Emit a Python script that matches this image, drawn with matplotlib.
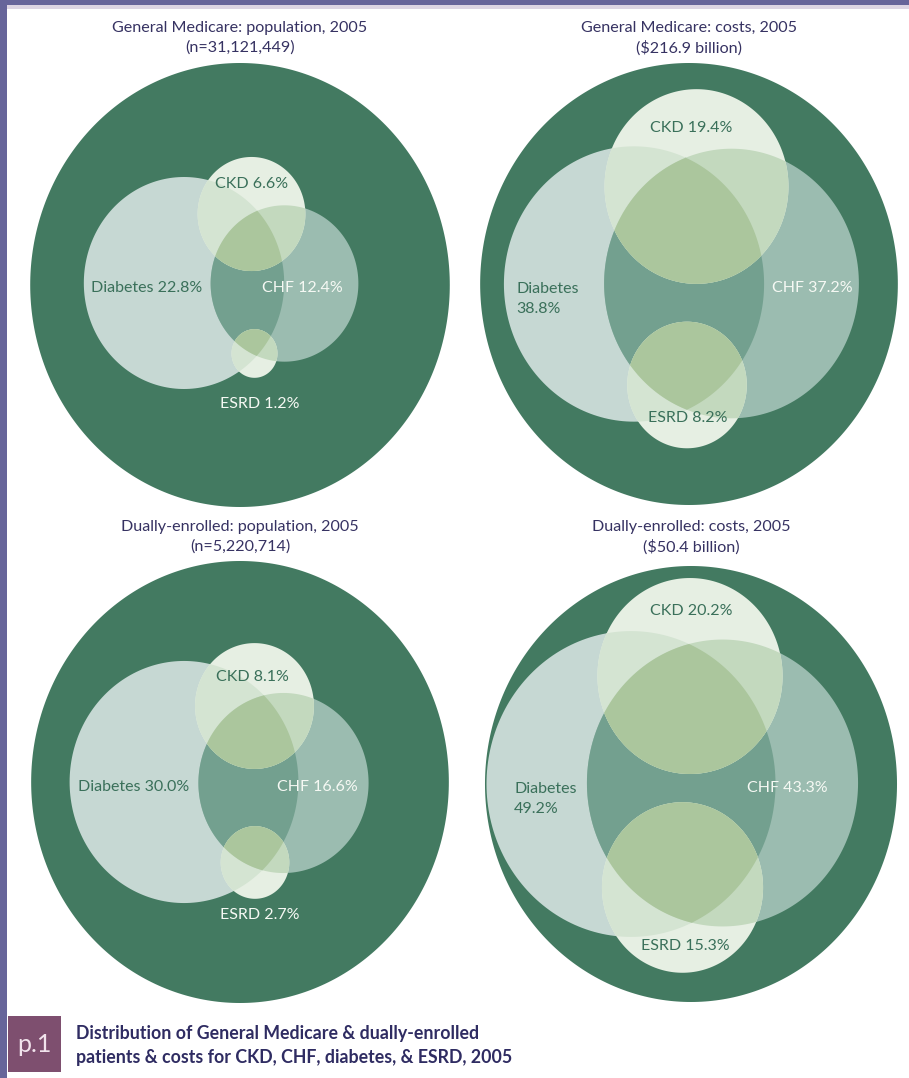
import matplotlib

matplotlib.use("Agg")
import matplotlib.pyplot as plt
from matplotlib.patches import Polygon, Rectangle
import numpy as np

# ---- data -------------------------------------------------------------
panel_titles = [
    "General Medicare: population, 2005",
    "General Medicare: costs, 2005",
    "Dually-enrolled: population, 2005",
    "Dually-enrolled: costs, 2005",
]
panel_subtitles = ["(n=31,121,449)", "($216.9 billion)", "(n=5,220,714)", "($50.4 billion)"]
diabetes_pct = [22.8, 38.8, 30.0, 49.2]
chf_pct = [12.4, 37.2, 16.6, 43.3]
ckd_pct = [6.6, 19.4, 8.1, 20.2]
esrd_pct = [1.2, 8.2, 2.7, 15.3]
caption = ["Distribution of General Medicare & dually-enrolled",
           "patients & costs for CKD, CHF, diabetes, & ESRD, 2005"]

# ---- layout (pixel coordinates) ---------------------------------------
W, H = 909, 1078
XSQ = 0.945  # artwork is slightly squeezed horizontally
panel_xy = [(240, 285), (689, 284), (240, 782), (691, 784)]
panel_r = [222, 221, 221, 218]
diab_xy = [(184, 283), (634, 284), (184, 782), (631, 784)]
chf_xy = [(284.5, 283.5), (731.5, 283.5), (283.5, 783), (722.5, 783)]
ckd_xy = [(251.5, 214), (696.5, 186.5), (254.5, 706), (690, 676)]
esrd_xy = [(254.5, 353.5), (687, 385), (255, 862.5), (682.5, 887.5)]
title_y = [28, 28, 527, 527]

# label anchors: (x, y, ha)
diab_lab = [(147, 288, "center"), (516, 299, "left"), (134, 787, "center"), (514, 799, "left")]
chf_lab = [(302, 288), (812, 288), (317, 787), (787, 788)]
ckd_lab = [(252, 184), (691, 128), (252, 677), (691, 611)]
esrd_lab = [(260, 404), (688, 418), (260, 915), (685, 946)]
esrd_on_dark = [True, False, True, False]

BG = "#437A61"
C_DIAB = "#C6D8D3"
C_CHF = "#9BBCB0"
C_DIAB_CHF = "#73A08F"
C_SMALL = "#E6EFE3"
C_SMALL_DIAB = "#D4E4D2"
C_SMALL_CHF = "#C3D9BE"
C_SMALL_ALL = "#ABC69D"
DARK_TXT = "#3A705A"
LIGHT_TXT = "#F6F9F4"
TITLE_C = "#363262"

LABEL_FS = 11.5
TITLE_FS = 11.6

plt.rcParams["font.family"] = ["Lato", "DejaVu Sans"]


def ellipse_pts(c, r, n=220):
    t = np.linspace(0, 2 * np.pi, n, endpoint=False)
    return np.column_stack([c[0] + XSQ * r * np.cos(t), c[1] + r * np.sin(t)])


def clip(subject, clipper):
    # Sutherland-Hodgman, both polygons convex and counter-clockwise
    out = [tuple(p) for p in subject]
    m = len(clipper)
    for i in range(m):
        if not out:
            break
        ax_, ay_ = clipper[i]
        bx_, by_ = clipper[(i + 1) % m]
        dx, dy = bx_ - ax_, by_ - ay_

        def side(p):
            return dx * (p[1] - ay_) - dy * (p[0] - ax_)

        inp, out = out, []
        s = inp[-1]
        ss = side(s)
        for e in inp:
            se = side(e)
            if se >= 0:
                if ss < 0:
                    t = ss / (ss - se)
                    out.append((s[0] + t * (e[0] - s[0]), s[1] + t * (e[1] - s[1])))
                out.append(e)
            elif ss >= 0:
                t = ss / (ss - se)
                out.append((s[0] + t * (e[0] - s[0]), s[1] + t * (e[1] - s[1])))
            s, ss = e, se
    return np.array(out)


def fill(ax, pts, color):
    if len(pts) >= 3:
        ax.add_patch(Polygon(pts, closed=True, facecolor=color, edgecolor="none", lw=0))


fig = plt.figure(figsize=(W / 100, H / 100), dpi=100)
ax = fig.add_axes([0, 0, 1, 1])
ax.set_xlim(0, W)
ax.set_ylim(H, 0)
ax.axis("off")

for i in range(4):
    R = panel_r[i]
    big = ellipse_pts(panel_xy[i], R, 360)
    diab = ellipse_pts(diab_xy[i], R * np.sqrt(diabetes_pct[i] / 100))
    chf = ellipse_pts(chf_xy[i], R * np.sqrt(chf_pct[i] / 100))
    smalls = [ellipse_pts(ckd_xy[i], R * np.sqrt(ckd_pct[i] / 100)),
              ellipse_pts(esrd_xy[i], R * np.sqrt(esrd_pct[i] / 100))]

    fill(ax, big, BG)
    fill(ax, diab, C_DIAB)
    fill(ax, chf, C_CHF)
    for s in smalls:
        fill(ax, s, C_SMALL)
    dc = clip(diab, chf)
    fill(ax, dc, C_DIAB_CHF)
    for s in smalls:
        fill(ax, clip(s, diab), C_SMALL_DIAB)
        fill(ax, clip(s, chf), C_SMALL_CHF)
    for s in smalls:
        if len(dc) >= 3:
            fill(ax, clip(s, dc), C_SMALL_ALL)

    # titles
    ax.text(panel_xy[i][0], title_y[i], panel_titles[i], ha="center", va="center",
            fontsize=TITLE_FS, color=TITLE_C)
    ax.text(panel_xy[i][0], title_y[i] + 20, panel_subtitles[i], ha="center", va="center",
            fontsize=TITLE_FS, color=TITLE_C)

    # labels
    x, y, ha = diab_lab[i]
    sep = " " if ha == "center" else "\n"
    ax.text(x, y, f"Diabetes{sep}{diabetes_pct[i]:.1f}%", ha=ha, va="center",
            fontsize=LABEL_FS, color=DARK_TXT, linespacing=1.5)
    ax.text(*chf_lab[i], f"CHF {chf_pct[i]:.1f}%", ha="center", va="center",
            fontsize=LABEL_FS, color=LIGHT_TXT)
    ax.text(*ckd_lab[i], f"CKD {ckd_pct[i]:.1f}%", ha="center", va="center",
            fontsize=LABEL_FS, color=DARK_TXT)
    ax.text(*esrd_lab[i], f"ESRD {esrd_pct[i]:.1f}%", ha="center", va="center",
            fontsize=LABEL_FS, color=LIGHT_TXT if esrd_on_dark[i] else DARK_TXT)

# page frame
ax.add_patch(Rectangle((0, 0), W, 5, facecolor="#67659A", edgecolor="none"))
ax.add_patch(Rectangle((7, 5), W - 7, 4, facecolor="#DDD5E3", edgecolor="none"))
ax.add_patch(Rectangle((0, 0), 7, H, facecolor="#67659A", edgecolor="none"))

# caption
ax.add_patch(Rectangle((8, 1016), 53, 56, facecolor="#7E4F6F", edgecolor="none"))
ax.text(34, 1044, "p.1", ha="center", va="center", fontsize=18, color="#F1E3EC")
ax.text(76, 1033, caption[0], ha="left", va="center", fontsize=12.8, fontweight="bold",
        color="#2F2C62")
ax.text(76, 1057, caption[1], ha="left", va="center", fontsize=12.8, fontweight="bold",
        color="#2F2C62")

fig.savefig("out.png", dpi=100, facecolor="white")
